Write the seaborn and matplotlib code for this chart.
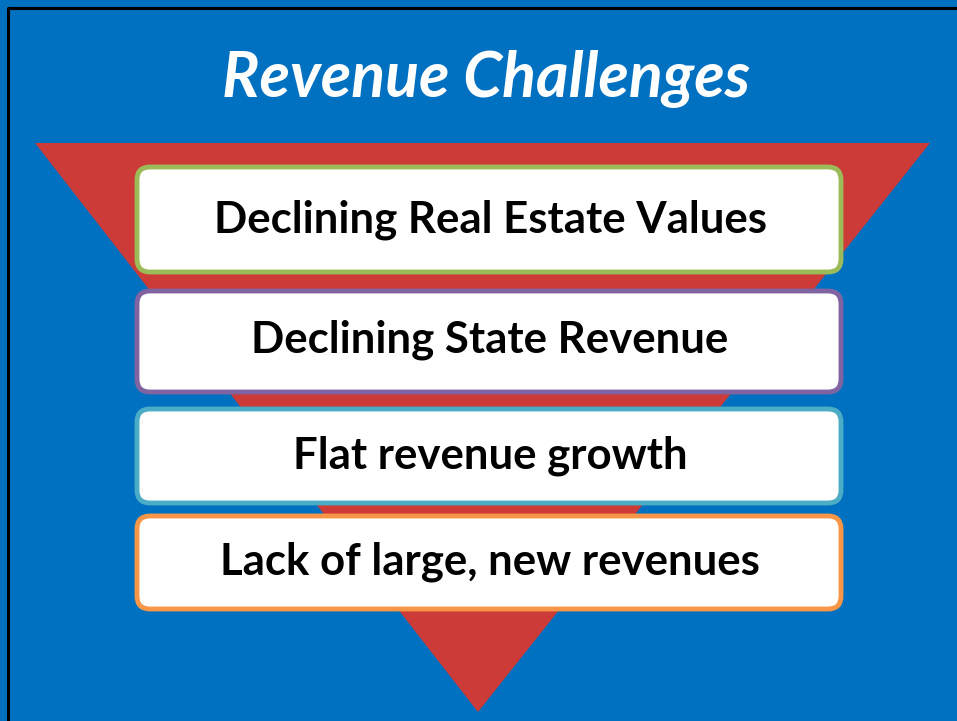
import matplotlib.pyplot as plt
import seaborn as sns
from matplotlib.patches import FancyBboxPatch, Polygon

# content
title = "Revenue Challenges"
challenges = [
    "Declining Real Estate Values",
    "Declining State Revenue",
    "Flat revenue growth",
    "Lack of large, new revenues",
]
edge_colors = ["#9BBB59", "#8064A2", "#4BACC6", "#F79646"]

# layout (pixels, y down)
W, H = 957, 721
box_left, box_right = 137, 841
box_top = [167, 291, 409, 516]
box_bottom = [272, 392, 503, 609]
text_baseline = [232, 353, 469, 575]
funnel = [(35, 143), (930, 143), (478, 712)]

sns.set_theme(style="white")
plt.rcParams["font.family"] = ["Lato", "DejaVu Sans"]

fig = plt.figure(figsize=(W / 100, H / 100), dpi=100)
fig.patch.set_facecolor("#0070C0")
ax = fig.add_axes([0, 0, 1, 1])
ax.set_xlim(0, W)
ax.set_ylim(H, 0)
ax.set_facecolor("#0070C0")
ax.axis("off")

# slide frame (left/top visible)
ax.plot([8, 8, W], [H, 8, 8], color="black", lw=2.2, solid_capstyle="butt")

ax.add_patch(Polygon(funnel, closed=True, facecolor="#CC3B38", edgecolor="none"))

for i, label in enumerate(challenges):
    ax.add_patch(FancyBboxPatch(
        (box_left, box_top[i]), box_right - box_left, box_bottom[i] - box_top[i],
        boxstyle="round,pad=0,rounding_size=13",
        facecolor="white", edgecolor=edge_colors[i], linewidth=3.5))

cx = (box_left + box_right) / 2 + 1
ttl = ax.text(486, 97, title, color="white", fontsize=40, fontweight="bold",
              fontstyle="italic", ha="center", va="baseline")
texts = [ax.text(cx, text_baseline[i], label, color="black", fontsize=28,
                 fontweight="bold", ha="center", va="baseline")
         for i, label in enumerate(challenges)]

# fit font sizes to the measured widths
fig.canvas.draw()
r = fig.canvas.get_renderer()
w = ttl.get_window_extent(r).width
ttl.set_fontsize(40 * 528 / w)
w = texts[0].get_window_extent(r).width
for t in texts:
    t.set_fontsize(28 * 553 / w)

fig.savefig("out.png", dpi=100, facecolor=fig.get_facecolor())
